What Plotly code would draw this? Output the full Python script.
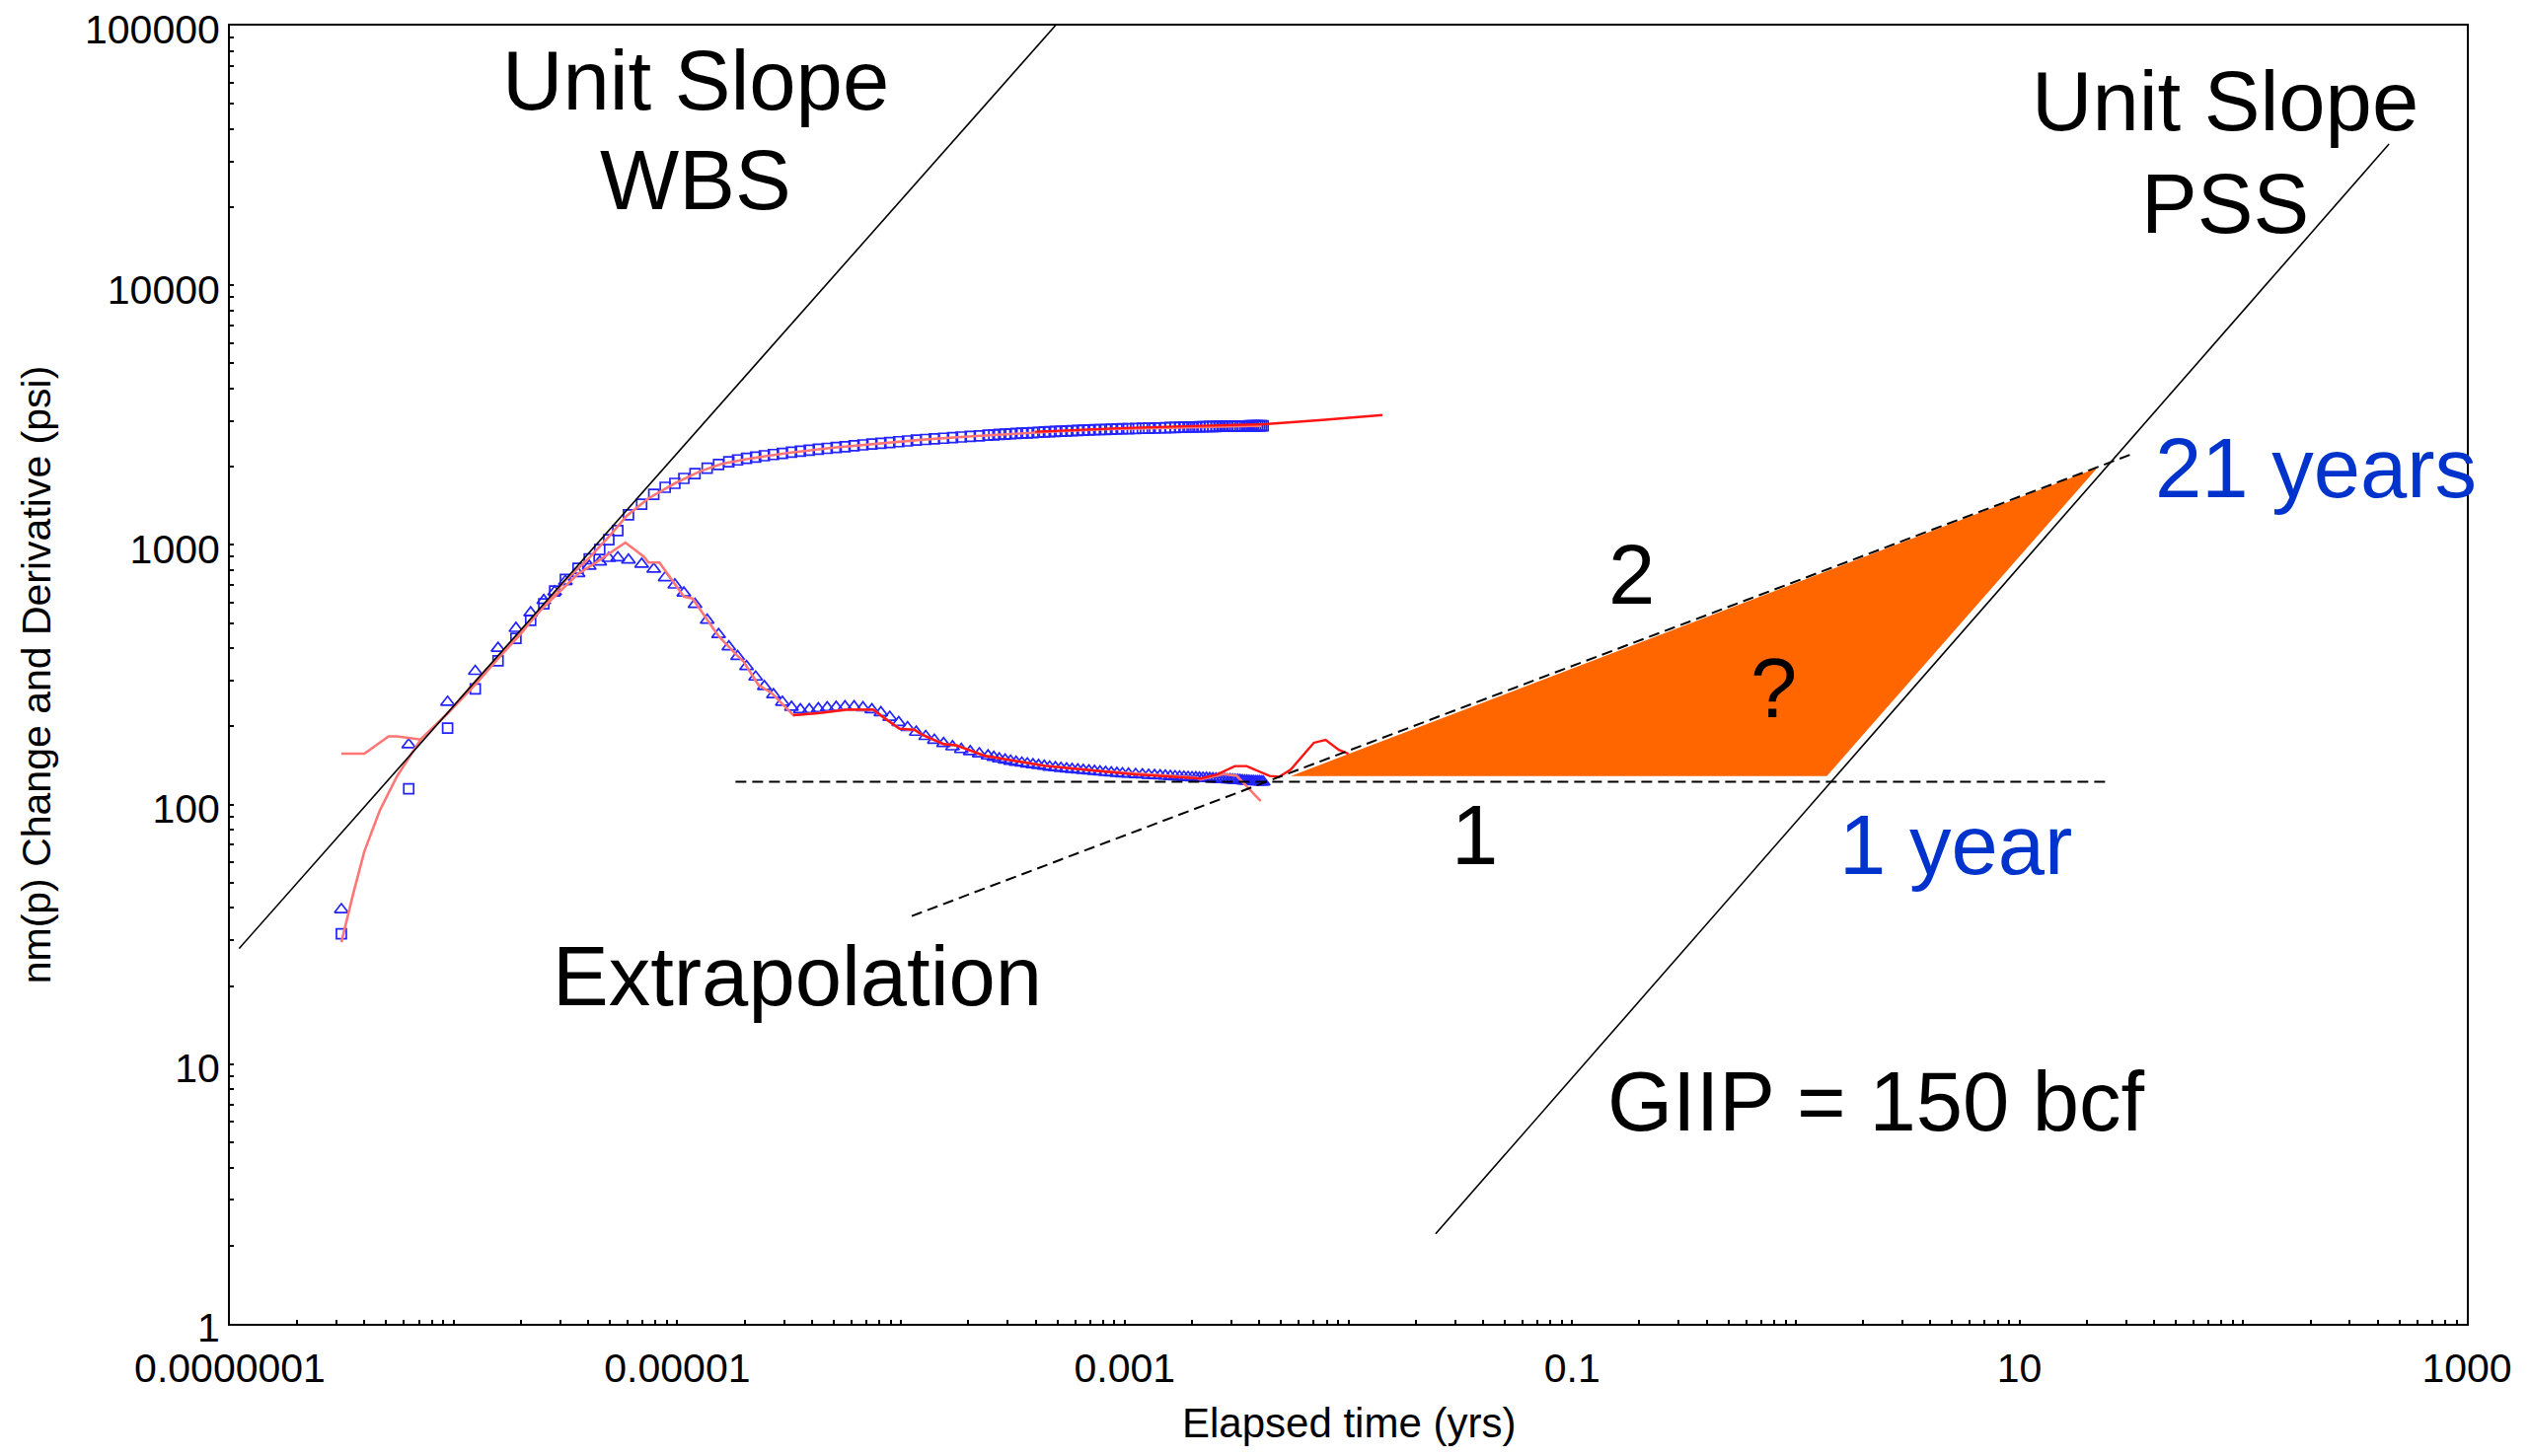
import plotly.graph_objects as go

# ---------------- data ----------------
# measured pressure change (open squares) and derivative (open triangles)
t_meas = [3.15e-7, 6.3e-7, 9.4e-7, 1.25e-6, 1.58e-6, 1.90e-6, 2.21e-6, 2.53e-6, 2.83e-6, 3.16e-6,
          3.6e-6, 4.04e-6, 4.5e-6, 4.94e-6, 5.42e-6, 6.05e-6, 6.93e-6, 7.85e-6, 8.83e-6, 9.75e-6,
          1.07e-5, 1.2e-5, 1.36e-5, 1.53e-5,
          1.70e-5, 1.86e-5, 2.04e-5, 2.24e-5, 2.45e-5, 2.69e-5, 2.95e-5, 3.24e-5, 3.55e-5, 3.89e-5,
          4.27e-5, 4.68e-5, 5.13e-5, 5.62e-5, 6.17e-5, 6.76e-5, 7.41e-5, 8.13e-5, 8.91e-5, 9.77e-5,
          1.07e-4, 1.17e-4, 1.29e-4, 1.41e-4, 1.55e-4, 1.70e-4, 1.86e-4, 2.04e-4, 2.24e-4, 2.45e-4,
          2.60e-4, 2.75e-4, 2.92e-4, 3.09e-4, 3.27e-4, 3.47e-4, 3.67e-4, 3.89e-4, 4.12e-4, 4.37e-4,
          4.62e-4, 4.90e-4, 5.19e-4, 5.50e-4, 5.82e-4, 6.17e-4, 6.53e-4, 6.92e-4, 7.33e-4, 7.76e-4,
          8.22e-4, 8.71e-4, 9.23e-4, 9.77e-4,
          1.04e-3, 1.12e-3, 1.20e-3, 1.28e-3, 1.36e-3, 1.44e-3, 1.52e-3, 1.60e-3, 1.68e-3, 1.76e-3,
          1.84e-3, 1.92e-3, 2.00e-3, 2.08e-3, 2.16e-3, 2.24e-3, 2.32e-3, 2.40e-3, 2.48e-3, 2.56e-3,
          2.64e-3, 2.72e-3, 2.80e-3, 2.88e-3, 2.96e-3, 3.04e-3, 3.12e-3, 3.20e-3, 3.28e-3, 3.36e-3,
          3.44e-3, 3.52e-3, 3.60e-3, 3.68e-3, 3.76e-3, 3.84e-3, 3.92e-3, 4.00e-3, 4.08e-3, 4.16e-3]

dp_meas = [31.8, 115, 197, 279, 358, 437, 512, 593, 665, 736,
           813, 884, 960, 1047, 1135, 1305, 1436, 1567, 1667, 1726,
           1803, 1883, 1973, 2042,
           2090, 2125, 2155, 2180, 2205, 2230, 2250, 2275, 2295, 2315,
           2335, 2355, 2375, 2390, 2410, 2428, 2445, 2462, 2480, 2498,
           2515, 2532, 2548, 2562, 2576, 2590, 2604, 2618, 2632, 2646,
           2655, 2663, 2671, 2679, 2687, 2694, 2701, 2708, 2715, 2722,
           2729, 2736, 2742, 2748, 2754, 2760, 2766, 2771, 2776, 2781,
           2786, 2791, 2796, 2800,
           2803, 2808, 2812, 2816, 2820, 2824, 2828, 2831, 2834, 2837,
           2840, 2843, 2846, 2848, 2850, 2852, 2854, 2856, 2858, 2860,
           2862, 2864, 2865, 2866, 2867, 2868, 2869, 2870, 2871, 2872,
           2873, 2874, 2875, 2876, 2876, 2877, 2877, 2878, 2878, 2879]

deriv_meas = [39.4, 170, 248, 326, 400, 477, 548, 611, 660, 724,
              776, 828, 860, 888, 893, 875, 843, 807, 748, 701,
              653, 590, 513, 452,
              405, 372, 340, 310, 285, 265, 248, 237, 232, 232,
              234, 236, 237, 238, 238, 236, 232, 226, 217, 207,
              198, 190, 183, 177, 172, 167, 163, 160, 157, 154,
              152, 150, 148.5, 147, 145.5, 144.5, 143.5, 142.5, 141.5, 140.5,
              139.5, 138.7, 138, 137.3, 136.6, 136, 135.4, 134.8, 134.2, 133.6,
              133, 132.5, 132, 131.5,
              131, 130.6, 130.2, 129.8, 129.4, 129, 128.7, 128.4, 128.1, 127.8,
              127.5, 127.2, 127, 126.8, 126.6, 126.4, 126.2, 126, 125.8, 125.6,
              125.4, 125.2, 125, 124.8, 124.6, 124.4, 124.2, 124, 123.8, 123.6,
              123.4, 123.2, 123, 122.8, 122.7, 122.6, 122.5, 122.4, 122.3, 122.2]

# model 1 (light red)
t_model_p = [3.15e-7, 3.55e-7, 3.99e-7, 4.68e-7, 5.60e-7, 7.13e-7, 9.44e-7, 1.26e-6, 1.58e-6, 2.00e-6,
             2.51e-6, 3.16e-6, 3.98e-6, 5.01e-6, 5.92e-6, 7.43e-6, 9.75e-6, 1.26e-5, 1.58e-5, 2.00e-5,
             2.51e-5, 3.16e-5, 5.01e-5, 7.94e-5, 1.26e-4, 2.00e-4, 3.16e-4, 5.01e-4, 7.94e-4, 1.26e-3,
             2.00e-3, 3.16e-3, 4.07e-3]
model_p = [29.5, 45, 66, 95, 129, 178, 225, 292, 365, 455,
           580, 730, 880, 1090, 1290, 1511, 1726, 1920, 2050, 2135,
           2200, 2265, 2370, 2460, 2545, 2615, 2685, 2740, 2785, 2815,
           2845, 2865, 2876]

t_model_d = [3.15e-7, 3.99e-7, 5.12e-7, 5.60e-7, 7.13e-7, 9.44e-7, 1.21e-6, 1.91e-6, 2.50e-6, 3.00e-6,
             3.60e-6, 4.32e-6, 5.16e-6, 5.86e-6, 7.10e-6, 7.43e-6, 8.32e-6, 9.75e-6, 1.07e-5, 1.17e-5,
             1.34e-5, 1.53e-5, 1.84e-5, 1.97e-5, 2.31e-5, 2.64e-5, 3.30e-5, 4.29e-5, 5.71e-5, 7.50e-5,
             8.59e-5, 9.84e-5, 1.15e-4, 1.24e-4, 1.55e-4, 1.77e-4, 2.37e-4, 4.41e-4, 7.40e-4, 1.24e-3,
             2.08e-3, 2.18e-3, 2.77e-3, 3.17e-3, 3.56e-3, 4.06e-3]
model_d = [157, 157, 183, 183, 178, 225, 288, 445, 571, 665,
           773, 855, 946, 1021, 900, 855, 855, 711, 632, 622,
           526, 445, 377, 357, 288, 269, 221, 225, 232, 232,
           213, 196, 194, 186, 171, 169, 154, 141, 135, 131,
           127, 125, 131, 129, 116, 103]

# model 2 (bright red), extended
t_model2_p = [3.98e-4, 1.0e-3, 2.0e-3, 4.23e-3, 7.64e-3, 1.42e-2]
model2_p = [2730, 2820, 2870, 2917, 3027, 3162]

t_model2_d = [3.30e-5, 4.29e-5, 5.71e-5, 7.50e-5, 8.59e-5, 9.84e-5, 1.15e-4, 1.24e-4, 1.55e-4, 1.77e-4,
              2.37e-4, 4.41e-4, 7.40e-4, 1.11e-3, 2.18e-3, 2.59e-3, 3.11e-3, 3.51e-3, 4.45e-3, 4.92e-3,
              5.53e-3, 7.01e-3, 7.91e-3, 9.06e-3, 1.00e-2]
model2_d = [221, 225, 232, 232, 213, 196, 194, 186, 171, 169,
            154, 141, 135, 130.6, 126, 130.6, 140.6, 140.6, 128.8, 128,
            136.5, 173, 177.5, 162.5, 157]

# straight guide lines
wbs_t, wbs_p = [1.10e-7, 5.07e-4], [27.9, 1.035e5]
pss_t, pss_p = [0.02455, 448.7], [2.22, 34990]
flat_t, flat_p = [1.82e-5, 25.6], [122.5, 122.5]
extrap_t, extrap_p = [1.117e-4, 31.19], [37.2, 2223]
tri_t, tri_p = [5.53e-3, 1.377, 22.3, 5.53e-3], [128.8, 128.8, 1982, 128.8]

# tick labels
x_major = [1e-7, 1e-6, 1e-5, 1e-4, 1e-3, 1e-2, 1e-1, 1, 10, 100, 1000]
x_major_text = ["0.0000001", "", "0.00001", "", "0.001", "", "0.1", "", "10", "", "1000"]
y_major = [1, 10, 100, 1000, 10000, 100000]
y_major_text = ["1", "10", "100", "1000", "10000", "100000"]
minor_mult = [2, 3, 4, 5, 6, 7, 8, 9]

# annotations: (text, log10 x, log10 y, colour)
labels = [
    ("Unit Slope", -4.918, 4.791, "black"),
    ("WBS", -4.918, 4.405, "black"),
    ("Unit Slope", 1.919, 4.711, "black"),
    ("PSS", 1.919, 4.315, "black"),
    ("21 years", 2.323, 3.295, "#0033CC"),
    ("2", -0.732, 2.886, "black"),
    ("?", -0.101, 2.449, "black"),
    ("1", -1.436, 1.881, "black"),
    ("1 year", 0.715, 1.844, "#0033CC"),
    ("Extrapolation", -4.464, 1.341, "black"),
    ("GIIP = 150 bcf", 0.358, 0.856, "black"),
]
x_title = "Elapsed time (yrs)"
y_title = "nm(p) Change and Derivative (psi)"

# ---------------- figure ----------------
FONT = "Liberation Sans, Arial, sans-serif"
BLUE = "rgb(35,35,255)"
SALMON = "rgb(255,118,118)"
RED = "rgb(255,20,20)"

fig = go.Figure()

fig.add_trace(go.Scatter(x=tri_t, y=tri_p, mode="lines", fill="toself",
                         fillcolor="#FF6600", line=dict(width=0, color="#FF6600"),
                         hoverinfo="skip", showlegend=False))

fig.add_trace(go.Scatter(x=t_meas, y=dp_meas, mode="markers",
                         marker=dict(symbol="square-open", size=10, color=BLUE,
                                     line=dict(width=1.7, color=BLUE)),
                         showlegend=False))
fig.add_trace(go.Scatter(x=t_meas, y=deriv_meas, mode="markers",
                         marker=dict(symbol="triangle-up-open", size=12, color=BLUE,
                                     line=dict(width=1.7, color=BLUE)),
                         showlegend=False))

fig.add_trace(go.Scatter(x=t_model_p, y=model_p, mode="lines",
                         line=dict(color=SALMON, width=2.6), showlegend=False))
fig.add_trace(go.Scatter(x=t_model_d, y=model_d, mode="lines",
                         line=dict(color=SALMON, width=2.6), showlegend=False))
fig.add_trace(go.Scatter(x=t_model2_p, y=model2_p, mode="lines",
                         line=dict(color=RED, width=2.4), showlegend=False))
fig.add_trace(go.Scatter(x=t_model2_d, y=model2_d, mode="lines",
                         line=dict(color=RED, width=2.4), showlegend=False))

for xs, ys in [(wbs_t, wbs_p), (pss_t, pss_p)]:
    fig.add_trace(go.Scatter(x=xs, y=ys, mode="lines",
                             line=dict(color="black", width=1.6), showlegend=False))
for xs, ys in [(flat_t, flat_p), (extrap_t, extrap_p)]:
    fig.add_trace(go.Scatter(x=xs, y=ys, mode="lines",
                             line=dict(color="black", width=2, dash="11px,6px"),
                             showlegend=False))

x_ticks = sorted(x_major + [d * m for d in x_major[:-1] for m in minor_mult])
x_text = [x_major_text[x_major.index(v)] if v in x_major else "" for v in x_ticks]
y_ticks = sorted(y_major + [d * m for d in y_major[:-1] for m in minor_mult])
y_text = [y_major_text[y_major.index(v)] if v in y_major else "" for v in y_ticks]

tickfont = dict(family=FONT, size=41, color="black")
common = dict(type="log", showgrid=False, zeroline=False, tickcolor="black", tickwidth=2,
              automargin=False)

# page body has an 8px default margin: the figure is sized to fit inside the window
fig.update_layout(
    width=2548, height=1460, autosize=False,
    margin=dict(l=225, r=56, t=18, b=126, pad=0),
    paper_bgcolor="white", plot_bgcolor="white",
    font=dict(family=FONT, color="black"),
    xaxis=dict(**common, range=[-7, 3], showline=True, linecolor="black", linewidth=2,
               mirror=True, ticks="inside", ticklen=4, ticklabelstandoff=8,
               ticklabeloverflow="allow",
               tickmode="array", tickvals=x_ticks, ticktext=x_text, tickfont=tickfont),
    yaxis=dict(**common, range=[0, 5], showline=True, linecolor="black", linewidth=2,
               mirror=True, ticks="inside", ticklen=4, ticklabelshift=4,
               ticklabeloverflow="allow",
               tickmode="array", tickvals=y_ticks, ticktext=y_text, tickfont=tickfont,
               title=dict(text=y_title, font=dict(family=FONT, size=41), standoff=22)),
    xaxis2=dict(**common, range=[-7, 3], overlaying="x", anchor="y", side="bottom",
                ticks="outside", ticklen=4, tickmode="array", tickvals=x_ticks,
                showticklabels=False, showline=False),
    yaxis2=dict(**common, range=[0, 5], overlaying="y", anchor="x", side="left",
                ticks="outside", ticklen=4, tickmode="array", tickvals=y_ticks,
                showticklabels=False, showline=False),
)

# x-axis title placed as text below the tick labels, kept inside the figure
fig.add_annotation(x=0.5, y=-0.0765, xref="paper", yref="paper", text=x_title,
                   showarrow=False, xanchor="center", yanchor="middle",
                   font=dict(family=FONT, size=42, color="black"))

for text, lx, ly, col in labels:
    fig.add_annotation(x=lx, y=ly, xref="x", yref="y", text=text, showarrow=False,
                       xanchor="center", yanchor="middle",
                       font=dict(family=FONT, size=85, color=col))

fig.write_html("out.html")
